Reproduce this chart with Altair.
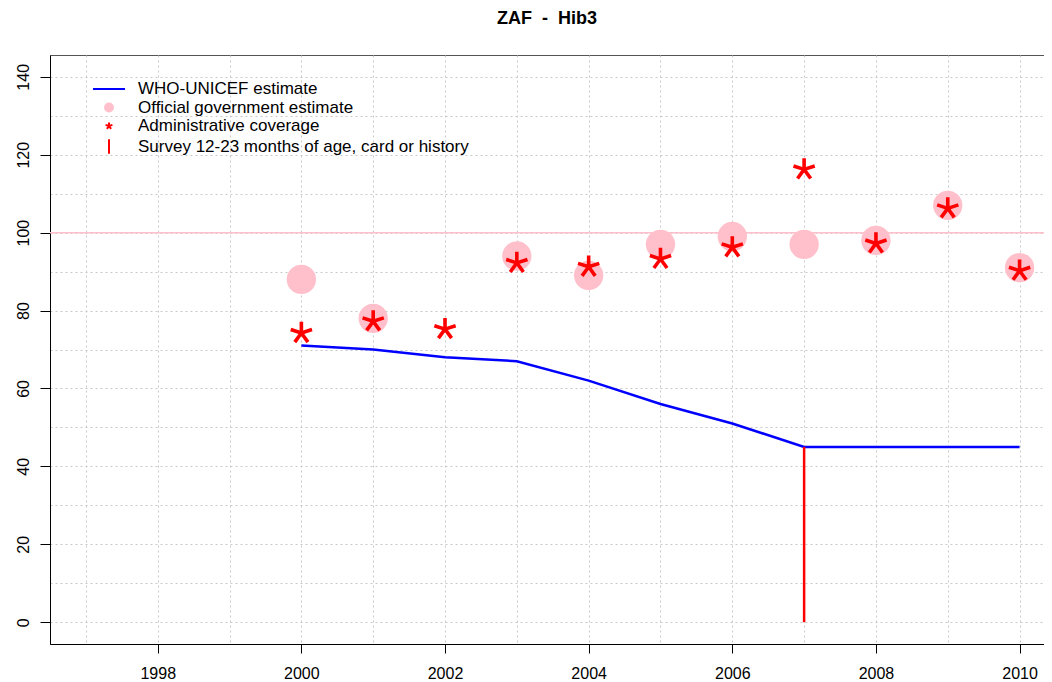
import altair as alt
import pandas as pd

# ---- data ----
years = [2000, 2001, 2002, 2003, 2004, 2005, 2006, 2007, 2008, 2009, 2010]
wuenic = [71, 70, 68, 67, 62, 56, 51, 45, 45, 45, 45]

official_years = [2000, 2001, 2003, 2004, 2005, 2006, 2007, 2008, 2009, 2010]
official = [88, 78, 94, 89, 97, 99, 97, 98, 107, 91]

admin_years = [2000, 2001, 2002, 2003, 2004, 2005, 2006, 2007, 2008, 2009, 2010]
admin = [75, 78, 76, 93, 92, 94, 97, 117, 98, 107, 91]

survey_years = [2007]
survey = [45]

series = [
    "WHO-UNICEF estimate",
    "Official government estimate",
    "Administrative coverage",
    "Survey 12-23 months of age, card or history",
]

x_grid = list(range(1997, 2011))
y_grid = list(range(0, 150, 10))
target = [100]

# ---- tables ----
df_w = pd.DataFrame({"year": years, "value": wuenic})
df_o = pd.DataFrame({"year": official_years, "value": official})
df_a = pd.DataFrame({"year": admin_years, "value": admin})
df_s = pd.DataFrame({"year": survey_years, "value": survey, "base": [0] * len(survey)})
df_t = pd.DataFrame({"value": target})
df_leg = pd.DataFrame({"series": series, "year": [1990] * 4, "value": [50] * 4})

FONT = "Liberation Sans"
xs = alt.Scale(domain=[1996.5, 2010.34], nice=False, zero=False)
ys = alt.Scale(domain=[-5.6, 145.6], nice=False, zero=False)

x_axis = alt.Axis(
    values=x_grid, grid=True, gridDash=[2, 3], gridColor="#c8c8c8",
    labelExpr="datum.value % 2 == 0 ? datum.value : ''",
    tickOpacity={"condition": {"test": "datum.value % 2 == 0", "value": 1}, "value": 0},
    tickSize=9, tickColor="#000", domainColor="#000", labelFontSize=16,
    labelFont=FONT, labelColor="#000", labelPadding=12, labelFlush=False,
    labelOverlap=False, title=None,
)
y_axis = alt.Axis(
    values=y_grid, grid=True, gridDash=[2, 3], gridColor="#c8c8c8",
    labelExpr="datum.value % 20 == 0 ? datum.value : ''",
    tickOpacity={"condition": {"test": "datum.value % 20 == 0", "value": 1}, "value": 0},
    tickSize=10, tickColor="#000", domainColor="#000", labelFontSize=16,
    labelFont=FONT, labelColor="#000", labelAngle=270, labelAlign="center",
    labelBaseline="bottom", labelPadding=9, labelFlush=False,
    labelOverlap=False, title=None,
)

# legend symbols (unit box scaled by sqrt(symbolSize)/2 = 9 px)
line_path = "M-1.78,0L1.78,0"
circle_path = "M0.44,0A0.44,0.44,0,1,1,-0.44,0A0.44,0.44,0,1,1,0.44,0Z"
ast_small = "M0,-0.4L0,0M0,0L0.38,-0.124M0,0L0.235,0.324M0,0L-0.235,0.324M0,0L-0.38,-0.124"
bar_path = "M0,-0.8L0,0.8"
ast_big = "M0,-1L0,0M0,0L0.951,-0.309M0,0L0.588,0.809M0,0L-0.588,0.809M0,0L-0.951,-0.309"

leg = alt.Legend(
    title=None, orient="none", legendX=49, legendY=24, labelFontSize=17,
    labelFont=FONT, labelColor="#000", labelLimit=600, symbolSize=324,
    symbolStrokeWidth=2, labelOffset=19, rowPadding=0.5, padding=0,
)

X = alt.X("year:Q", scale=xs, axis=x_axis)
Y = alt.Y("value:Q", scale=ys, axis=y_axis)

wuenic_line = alt.Chart(df_w).mark_line(color="#0000FF", strokeWidth=2.5).encode(x=X, y=Y)

target_rule = alt.Chart(df_t).mark_rule(color="#FFC0CB", strokeWidth=1.5).encode(y=Y)

circles = alt.Chart(df_o).mark_circle(size=860, color="#FFC0CB", opacity=1).encode(x=X, y=Y)

stars = alt.Chart(df_a).mark_point(
    shape=ast_big, filled=False, size=500, strokeWidth=3.6, color="#FF0000",
    opacity=1, yOffset=3,
).encode(x=X, y=Y)

survey_rule = alt.Chart(df_s).mark_rule(color="#FF0000", strokeWidth=2.5).encode(
    x=X,
    y=alt.Y("base:Q", scale=ys, axis=y_axis),
    y2="value:Q",
)

legend_layer = alt.Chart(df_leg).mark_point(opacity=1, clip=True).encode(
    x=X,
    y=Y,
    shape=alt.Shape("series:N", scale=alt.Scale(domain=series, range=[line_path, circle_path, ast_small, bar_path]), legend=leg),
    fill=alt.Fill("series:N", scale=alt.Scale(domain=series, range=["transparent", "#FFC0CB", "transparent", "transparent"]), legend=leg),
    stroke=alt.Stroke("series:N", scale=alt.Scale(domain=series, range=["#0000FF", "#FFC0CB", "#FF0000", "#FF0000"]), legend=leg),
)

chart = alt.layer(
    target_rule, wuenic_line, circles, stars, survey_rule, legend_layer
).properties(
    width=994,
    height=589,
    autosize=alt.AutoSizeParams(type="none"),
    padding={"left": 42, "top": 47, "right": 0, "bottom": 36},
    title=alt.Title(
        "ZAF\u00a0\u00a0-\u00a0\u00a0Hib3", fontSize=18, fontWeight="bold",
        font=FONT, color="#000", anchor="middle", baseline="middle", offset=18,
    ),
    background="white",
).configure_view(stroke="#555", strokeWidth=1)

chart.save("out.html", embed_options={"renderer": "svg", "actions": False})
